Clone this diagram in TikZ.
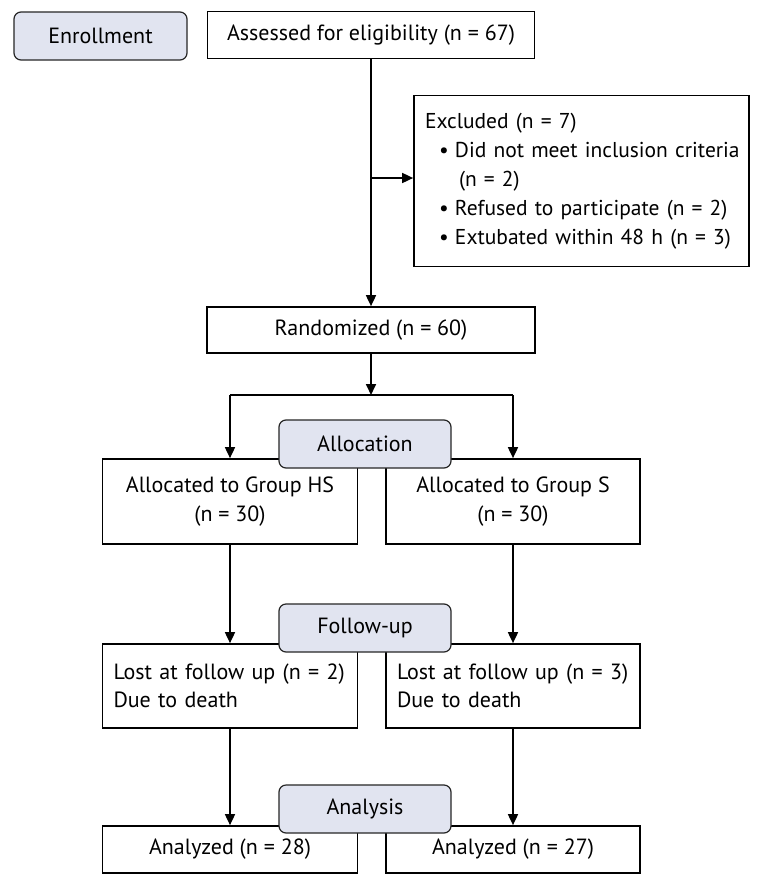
\documentclass[tikz,border=0pt]{standalone}
\usepackage{fontspec}
\setmainfont{PT Sans}
\usetikzlibrary{arrows.meta}
\definecolor{phasefill}{HTML}{E1E4F0}
\begin{document}
\begin{tikzpicture}[x=1pt,y=-1pt,
  box/.style={draw=black, line width=1.7pt, inner sep=0pt, font=\fontsize{22}{28.5}\selectfont, align=center},
  phase/.style={box, fill=phasefill, rounded corners=7pt, line width=1.2pt, draw=black!85},
  conn/.style={line width=1.7pt},
  arr/.style={conn, -{Triangle[length=11pt,width=10pt]}}]
\useasboundingbox (0,0) rectangle (758,884);
\fill[white] (0,0) rectangle (758,884);
% top
\node[phase, minimum width=173, minimum height=48] (enr) at (100.5,36) {Enrollment};
\node[box, minimum width=327, minimum height=47] (ass) at (371,35) {Assessed for eligibility (n = 67)};
\node[box, minimum width=335, minimum height=171, text width=323, inner xsep=6pt, align=left,
  font=\fontsize{21.5}{29}\selectfont] (exc) at (581.5,181)
  {\hspace*{5pt}Excluded (n = 7)\\
   \hspace*{19pt}\makebox[16pt][l]{•}\mbox{Did not meet inclusion criteria}\\
   \hspace*{39pt}(n = 2)\\
   \hspace*{19pt}\makebox[16pt][l]{•}\mbox{Refused to participate (n = 2)}\\
   \hspace*{19pt}\makebox[16pt][l]{•}\mbox{Extubated within 48 h (n = 3)}};
\node[box, minimum width=328, minimum height=46] (ran) at (371,330) {Randomized (n = 60)};
\coordinate (exj) at (371,178);
\coordinate (split) at (371,395);
% groups
\node[box, minimum width=255, minimum height=85] (hs) at (230,501.5) {Allocated to Group HS\\(n = 30)};
\node[box, minimum width=254, minimum height=85] (s) at (513,501.5) {Allocated to Group S\\(n = 30)};
\node[box, minimum width=255, minimum height=84, text width=233, inner xsep=11pt, align=left] (lhs) at (230,686) {Lost at follow up (n = 2)\\Due to death};
\node[box, minimum width=254, minimum height=84, text width=232, inner xsep=11pt, align=left] (ls) at (513,686) {Lost at follow up (n = 3)\\Due to death};
\node[box, minimum width=255, minimum height=47] (ahs) at (230,849.5) {Analyzed (n = 28)};
\node[box, minimum width=254, minimum height=47] (as) at (513,849.5) {Analyzed (n = 27)};
% connectors
\draw[arr] (ass.south) -- (ran.north);
\draw[arr] (exj) -- (exj -| exc.west);
\draw[arr] (ran.south) -- (split);
\draw[conn] (split -| hs.north) -- (split -| s.north);
\draw[arr] (split -| hs.north) -- (hs.north);
\draw[arr] (split -| s.north) -- (s.north);
\draw[arr] (hs.south) -- (lhs.north);
\draw[arr] (s.south) -- (ls.north);
\draw[arr] (lhs.south) -- (ahs.north);
\draw[arr] (ls.south) -- (as.north);
% phase labels
\node[phase, minimum width=172, minimum height=48] (alloc) at (365,444) {Allocation};
\node[phase, minimum width=172, minimum height=48] (fup) at (365,628) {Follow-up};
\node[phase, minimum width=172, minimum height=48] (ana) at (365,809) {Analysis};
\end{tikzpicture}
\end{document}
